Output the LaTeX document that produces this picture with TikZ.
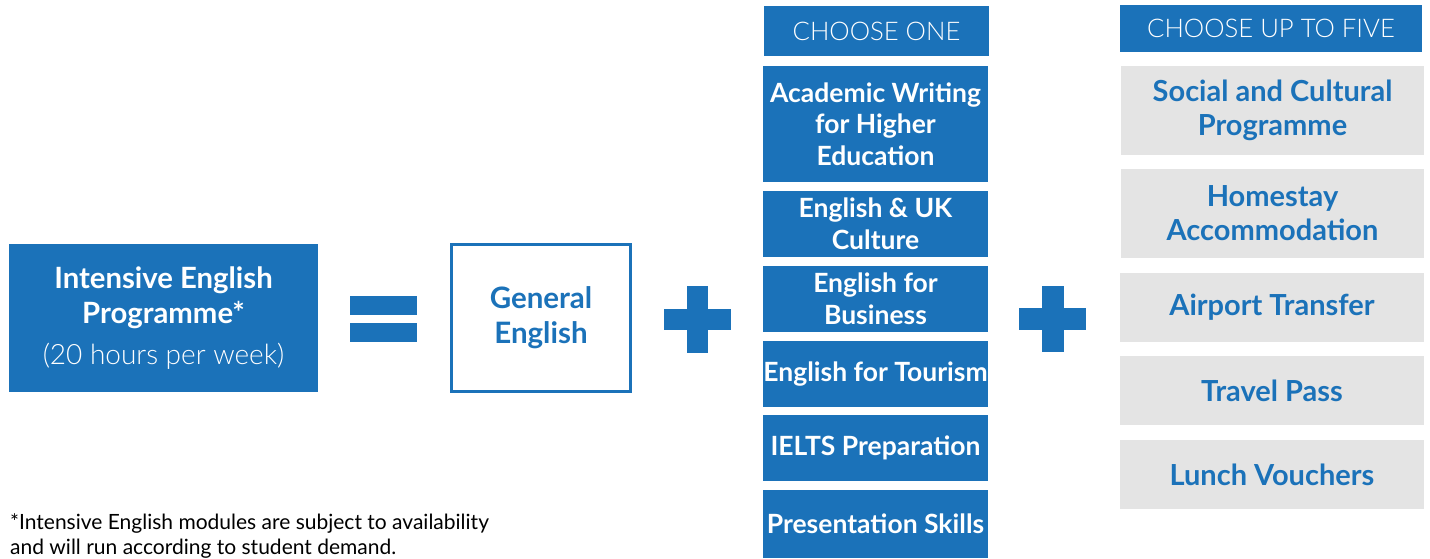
\documentclass[tikz,border=0pt]{standalone}
\usepackage{fontspec}
\setmainfont{Lato}
\newfontfamily\lightfont{Lato Light}
\definecolor{mainblue}{RGB}{27,114,185}
\definecolor{boxgray}{RGB}{228,228,228}
\tikzset{
  bluebox/.style={fill=mainblue, text=white, inner sep=0pt, outer sep=0pt, align=center, anchor=north west,
    font={\fontsize{26.5}{31.5}\selectfont\bfseries}},
  header/.style={fill=mainblue, text=white, inner sep=0pt, outer sep=0pt, align=center, anchor=north west,
    font={\fontsize{25.7}{30}\selectfont\lightfont}},
  graybox/.style={fill=boxgray, text=mainblue, inner sep=0pt, outer sep=0pt, align=center, anchor=north west,
    font={\fontsize{29}{34}\selectfont\bfseries}},
  symb/.style={fill=mainblue, draw=none},
}
\begin{document}
\begin{tikzpicture}[x=1pt,y=-1pt]
\useasboundingbox (0,0) rectangle (1430,558);
% left box
\node[fill=mainblue, text=white, inner sep=0pt, outer sep=0pt, align=center, anchor=north west,
  minimum width=309pt, minimum height=148pt, font={\fontsize{29.3}{35}\selectfont}] (ie) at (9,244)
  {\bfseries Intensive English\\\bfseries Programme*\\[6pt]{\fontsize{28}{35}\selectfont\lightfont (20 hours per week)}};
% equals
\fill[symb] (350,296) rectangle (417,315);
\fill[symb] (350,323) rectangle (417,342);
% general english
\node[draw=mainblue, line width=3pt, fill=white, text=mainblue, inner sep=0pt, outer sep=0pt, align=center,
  anchor=north west, minimum width=179pt, minimum height=147pt,
  font={\fontsize{29.5}{35}\selectfont\bfseries}] (ge) at (451.5,244.5) {General\\English};
% plus 1
\fill[symb] (687,286) rectangle (708,353);
\fill[symb] (664,309) rectangle (731,330);
% plus 2
\fill[symb] (1042,286) rectangle (1064,352);
\fill[symb] (1019,308) rectangle (1086,330);
% middle column
\node[header, minimum width=225pt, minimum height=50pt] (h1) at (764,6) {CHOOSE ONE};
\node[bluebox, minimum width=225pt, minimum height=116pt] (m1) at (763,66) {Academic Writing\\for Higher\\Education};
\node[bluebox, minimum width=225pt, minimum height=66pt] (m2) at (763,191) {English \& UK\\Culture};
\node[bluebox, minimum width=225pt, minimum height=66pt] (m3) at (763,266) {English for\\Business};
\node[bluebox, minimum width=225pt, minimum height=66pt] (m4) at (763,341) {English for Tourism};
\node[bluebox, minimum width=225pt, minimum height=66pt] (m5) at (763,415) {IELTS Preparation};
\node[bluebox, minimum width=225pt, minimum height=68pt] (m6) at (763,490) {Presentation Skills};
% right column
\node[header, minimum width=302pt, minimum height=47pt] (h2) at (1120,5) {CHOOSE UP TO FIVE};
\node[graybox, minimum width=303pt, minimum height=89pt] (r1) at (1121,66) {Social and Cultural\\Programme};
\node[graybox, minimum width=303pt, minimum height=89pt] (r2) at (1121,169) {Homestay\\Accommodation};
\node[graybox, minimum width=304pt, minimum height=69pt] (r3) at (1120,273) {Airport Transfer};
\node[graybox, minimum width=304pt, minimum height=69pt] (r4) at (1120,356) {Travel Pass};
\node[graybox, minimum width=304pt, minimum height=69pt] (r5) at (1120,440) {Lunch Vouchers};
% footnote
\node[anchor=base west, align=left, inner sep=0pt, text=black,
  font={\fontsize{21}{25}\selectfont}] (fn) at (10,554)
  {*Intensive English modules are subject to availability\\and will run according to student demand.};
\end{tikzpicture}
\end{document}
